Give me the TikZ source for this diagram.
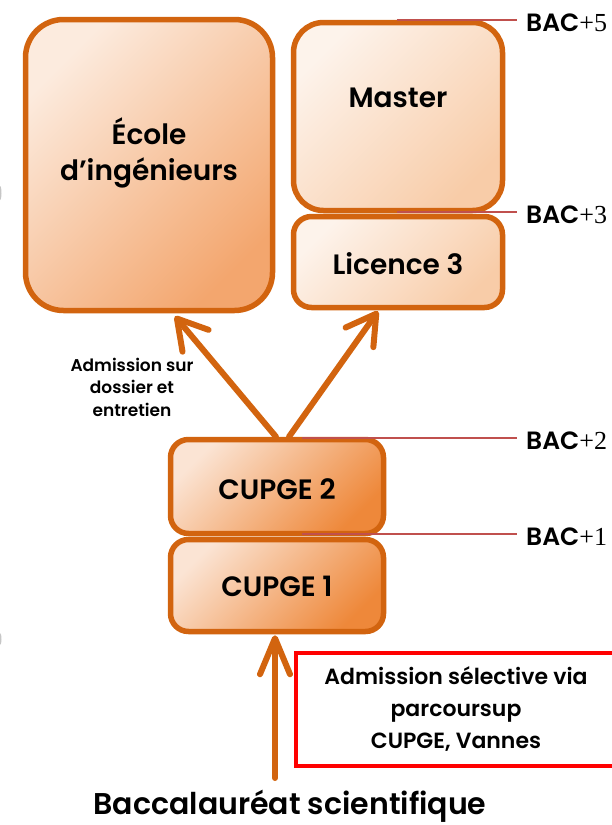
\documentclass[tikz,border=0pt]{standalone}
\usepackage{fontspec}
\setmainfont{Poppins}[BoldFont={Poppins SemiBold}]
\newfontfamily\bacserif{Liberation Serif}
\usetikzlibrary{arrows.meta}
\definecolor{brd}{RGB}{210,100,15}
\definecolor{ecoleA}{RGB}{252,235,222}
\definecolor{ecoleB}{RGB}{243,166,110}
\definecolor{mastA}{RGB}{253,243,235}
\definecolor{mastB}{RGB}{248,204,168}
\definecolor{cupA}{RGB}{251,228,212}
\definecolor{cupB}{RGB}{238,136,58}
\definecolor{bacred}{RGB}{192,80,77}
\definecolor{boxred}{RGB}{255,0,0}
\tikzset{
  box/.style={draw=brd, line width=5.5pt, inner sep=0pt, align=center,
    font=\bfseries\fontsize{28}{36}\selectfont},
  ecolefill/.style={bottom color=ecoleB, top color=ecoleA, shading angle=45},
  mastfill/.style={bottom color=mastB, top color=mastA, shading angle=45},
  cupfill/.style={bottom color=cupB, top color=cupA, shading angle=45},
  arrup/.style={draw=brd, line width=6pt, line cap=round,
    -{Straight Barb[length=29pt,width=34pt,round]}},
  arrbot/.style={draw=brd, line width=6pt, line cap=round,
    -{Straight Barb[length=36pt,width=30pt,round]}},
  bacline/.style={draw=bacred, line width=1.6pt},
  baclab/.style={anchor=west, inner sep=0pt, font=\bfseries\fontsize{25}{30}\selectfont},
}
\newcommand{\bacplus}[1]{BAC{\bacserif\mdseries\fontsize{26}{30}\selectfont +#1}}
\begin{document}
\begin{tikzpicture}[x=1pt,y=-1pt]
\useasboundingbox (0,0) rectangle (611,825);
% faint marks at the left edge
\fill[gray!45] (0,193) ellipse (1.5 and 7);
\fill[gray!45] (0,639) ellipse (1.5 and 6);
% boxes
\node[box, ecolefill, rounded corners=38pt, minimum width=247pt, minimum height=291pt] (ecole) at (149,165) {};
\node[font=\bfseries\fontsize{28}{36}\selectfont, align=center] (ecoleT) at (149,153) {École\\d’ingénieurs};
\node[box, mastfill, rounded corners=30pt, minimum width=209pt, minimum height=188pt] (master) at (398,116.5) {};
\node[font=\bfseries\fontsize{28}{36}\selectfont] (masterT) at (398,98) {Master};
\node[box, mastfill, rounded corners=18pt, minimum width=209pt, minimum height=91pt, text height=26pt] (licence) at (398,262) {Licence 3};
\node[box, cupfill, rounded corners=18pt, minimum width=213pt, minimum height=94pt, text height=26pt] (cupge2) at (277,486.5) {CUPGE 2};
\node[box, cupfill, rounded corners=18pt, minimum width=213pt, minimum height=92pt, text height=23pt] (cupge1) at (277,585.5) {CUPGE 1};
% arrows
\draw[arrup] ([xshift=-1pt]cupge2.north) -- ([xshift=26pt,yshift=-3pt]ecole.south);
\draw[arrup] ([xshift=12pt]cupge2.north) -- ([xshift=-20pt,yshift=-1pt]licence.south);
\coordinate (bacstart) at (275,778);
\draw[arrbot] (bacstart) -- ([xshift=-2pt,yshift=-1pt]cupge1.south);
% labels
\node[align=center, font=\bfseries\fontsize{17}{22.5}\selectfont] (admdos) at (132,387) {Admission sur\\dossier et\\entretien};
\node[draw=boxred, line width=4pt, align=center, inner sep=0pt, minimum width=320pt, minimum height=113pt,
  font=\bfseries\fontsize{22}{32}\selectfont] (admsel) at (456,709.5) {Admission sélective via\\parcoursup\\CUPGE, Vannes};
\node[font=\bfseries\fontsize{30}{36}\selectfont] (bac) at (290,806) {Baccalauréat scientifique};
% BAC levels
\node[baclab] (bac5) at (526,23) {\bacplus{5}};
\node[baclab] (bac3) at (526,215) {\bacplus{3}};
\node[baclab] (bac2) at (526,441) {\bacplus{2}};
\node[baclab] (bac1) at (526,537) {\bacplus{1}};
\coordinate (l5) at (397,20);
\coordinate (l3) at (397,212);
\coordinate (l2) at (302,438);
\coordinate (l1) at (302,534);
\draw[bacline] (l5) -- ([xshift=-9pt]l5 -| bac5.west);
\draw[bacline] (l3) -- ([xshift=-9pt]l3 -| bac3.west);
\draw[bacline] (l2) -- ([xshift=-9pt]l2 -| bac2.west);
\draw[bacline] (l1) -- ([xshift=-9pt]l1 -| bac1.west);
\end{tikzpicture}
\end{document}
